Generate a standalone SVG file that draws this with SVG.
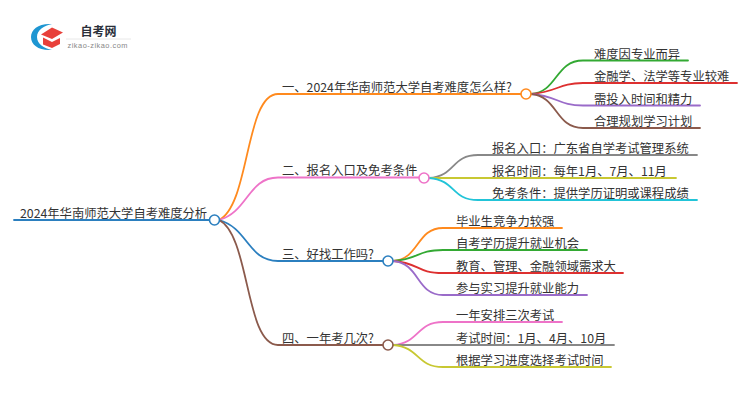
<svg xmlns="http://www.w3.org/2000/svg" width="750" height="410" viewBox="0 0 750 410">
<style>
text{font-family:"Noto Sans CJK SC","Noto Sans",sans-serif;font-size:12.3px;fill:#333}
.c{fill:none;stroke-width:1.8;stroke-linecap:round}
.n{fill:#fff;stroke-width:1.6}
</style>
<rect width="750" height="410" fill="#fff"/>
<g id="logo">
<path d="M52 24C39 23 31 29 31 37C31 45 39 51 52 50C44 48.500 37 44 37 37C37 30 44 25.500 52 24Z" fill="#1e96d2"/>
<path d="M41 34.500L52 27.500L63 32.500L52 39Z" fill="#e8403a"/>
<path d="M43 37.500L52 42L60 38V44L52 48L43 44.500Z" fill="#e8403a"/>
<line x1="66" y1="39" x2="131" y2="39" stroke="#e8e8e8"/>
<text x="80.500" y="35.500" style="font-size:12px;font-weight:700;fill:#2a2f3a">自考网</text>
<text x="67.500" y="48" style="font-size:7.400px;fill:#888;font-family:'Liberation Sans',sans-serif;letter-spacing:.5px">zikao-zikao.com</text>
</g>
<g id="connectors">
<path class="c" stroke="#2b7fbf" d="M14 220H209"/>
<path class="c" stroke="#ff8a1e" d="M219 220C250 205 245 94 278 94H521"/>
<path class="c" stroke="#ee73c8" d="M219 220C248 212 248 177.500 278 177.500H419"/>
<path class="c" stroke="#2b7fbf" d="M219 220C248 228 248 261 278 261H383"/>
<path class="c" stroke="#8b5a4c" d="M219 220C250 235 245 345 278 345H383"/>
<path class="c" stroke="#33a933" d="M531 94C558 92 555 60.500 583 60.500H688"/>
<path class="c" stroke="#dd3030" d="M531 94C558 92 558 83 583 83H737"/>
<path class="c" stroke="#9a6bc9" d="M531 94C558 96 558 105.500 583 105.500H700"/>
<path class="c" stroke="#8b5a4c" d="M531 94C558 96 555 128 583 128H700"/>
<path class="c" stroke="#888" d="M429 178C456 176 451 155 478 155H697"/>
<path class="c" stroke="#c8c832" d="M429 178H676"/>
<path class="c" stroke="#22c4d8" d="M429 178C456 180 451 200 478 200H697"/>
<path class="c" stroke="#ff8a1e" d="M393 261C420 259 416 228 443 228H562"/>
<path class="c" stroke="#33a933" d="M393 261C420 259 416 250 443 250H587"/>
<path class="c" stroke="#dd3030" d="M393 261C420 263 416 273 443 273H623"/>
<path class="c" stroke="#9a6bc9" d="M393 261C420 263 416 295 443 295H587"/>
<path class="c" stroke="#ee73c8" d="M393 345C420 343 416 322 443 322H562"/>
<path class="c" stroke="#888" d="M393 345H614"/>
<path class="c" stroke="#c8c832" d="M393 345C420 347 416 367 443 367H611"/>
</g>
<g id="root"><text x="20" y="217.500">2024年华南师范大学自考难度分析</text><circle class="n" cx="214.500" cy="220" r="5" stroke="#2b7fbf"/></g>
<g id="b1"><text x="282" y="91.500">一、2024年华南师范大学自考难度怎么样?</text><circle class="n" cx="526" cy="94" r="5" stroke="#ff8a1e"/></g>
<g id="b2"><text x="282" y="175">二、报名入口及免考条件</text><circle class="n" cx="424" cy="178" r="5" stroke="#ee73c8"/></g>
<g id="b3"><text x="282" y="258.500">三、好找工作吗?</text><circle class="n" cx="388" cy="261" r="5" stroke="#2b7fbf"/></g>
<g id="b4"><text x="282" y="342.500">四、一年考几次?</text><circle class="n" cx="388" cy="345" r="5" stroke="#8b5a4c"/></g>
<g id="l11"><text x="594" y="58.500">难度因专业而异</text></g>
<g id="l12"><text x="594" y="80.500">金融学、法学等专业较难</text></g>
<g id="l13"><text x="594" y="103.500">需投入时间和精力</text></g>
<g id="l14"><text x="594" y="125.500">合理规划学习计划</text></g>
<g id="l21"><text x="492" y="152.500">报名入口：广东省自学考试管理系统</text></g>
<g id="l22"><text x="492" y="175.500">报名时间：每年1月、7月、11月</text></g>
<g id="l23"><text x="492" y="197.500">免考条件：提供学历证明或课程成绩</text></g>
<g id="l31"><text x="456" y="225.500">毕业生竞争力较强</text></g>
<g id="l32"><text x="456" y="247.500">自考学历提升就业机会</text></g>
<g id="l33"><text x="456" y="270.500">教育、管理、金融领域需求大</text></g>
<g id="l34"><text x="456" y="292.500">参与实习提升就业能力</text></g>
<g id="l41"><text x="456" y="319.500">一年安排三次考试</text></g>
<g id="l42"><text x="456" y="342.500">考试时间：1月、4月、10月</text></g>
<g id="l43"><text x="456" y="364.500">根据学习进度选择考试时间</text></g>
</svg>
